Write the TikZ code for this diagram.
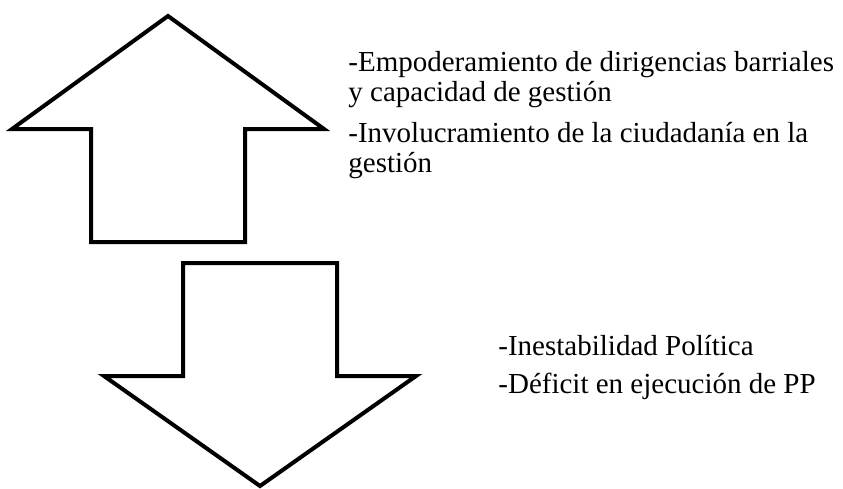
\documentclass[tikz,border=0pt]{standalone}
\usepackage{fontspec}
\setmainfont{Liberation Serif}

\begin{document}
\begin{tikzpicture}[x=1pt,y=-1pt,thick,
  arrow block/.style={draw,line width=4pt,line join=miter,fill=white},
  text node/.style={anchor=base west,inner sep=0pt,align=left,
        font=\fontsize{29}{30}\selectfont}]
  \useasboundingbox (0,0) rectangle (843,488);
  \clip (0,0) rectangle (843,488);

  % up arrow
  \draw[arrow block] (168,16) -- (12,129) -- (91,129) -- (91,242)
    -- (245,242) -- (245,129) -- (324,129) -- cycle;
  % down arrow
  \draw[arrow block] (183,263) -- (337,263) -- (337,376) -- (416,376)
    -- (260,486) -- (104,376) -- (183,376) -- cycle;

  \node[text node] (1) at (348,101) {-Empoderamiento de dirigencias barriales\\y capacidad de gestión};
  \node[text node] (2) at (348,172) {-Involucramiento de la ciudadanía en la\\gestión};
  \node[text node] (3) at (498,355) {-Inestabilidad Política};
  \node[text node] (4) at (498,393) {-Déficit en ejecución de PP};
\end{tikzpicture}
\end{document}
